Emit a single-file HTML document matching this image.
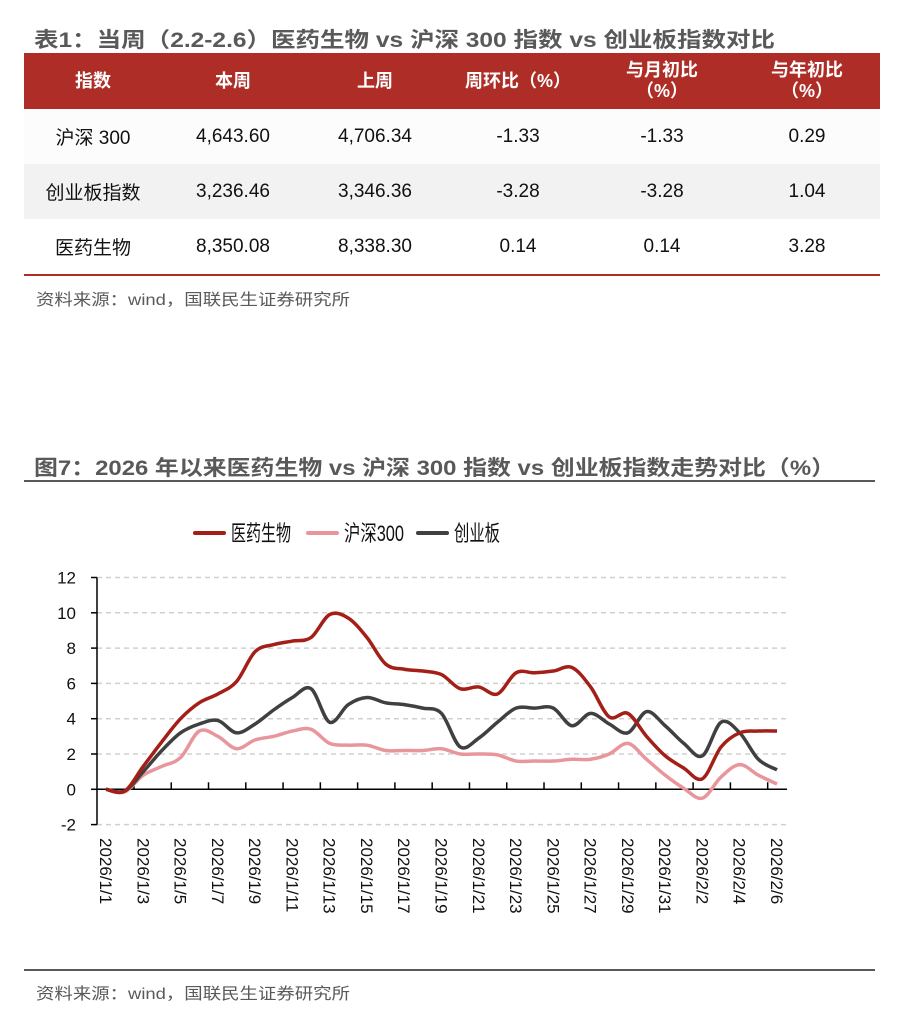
<!DOCTYPE html>
<html><head><meta charset="utf-8"><style>
body{margin:0;width:914px;height:1018px;background:#fff;font-family:"Liberation Sans","Noto Sans CJK SC",sans-serif;position:relative;overflow:hidden}
table{position:absolute;left:24px;top:53px;width:856px;border-collapse:collapse;font-size:19px;color:#111}
th{background:#ae2e27;color:#fff;font-weight:bold;height:56px;font-size:18px;line-height:21px;padding:0}
td{height:55px;text-align:center;padding:0}
tr.r1 td{background:#fcfcfc}tr.r2 td{background:#f2f2f2}tr.r3 td{background:#fff;border-bottom:2px solid #ae2e27}
svg.o{position:absolute;left:0;top:0}
</style></head><body>
<table>
<tr><th style="width:138px">指数</th><th style="width:142px">本周</th><th style="width:142px">上周</th><th style="width:144px">周环比（%）</th><th style="width:144px">与月初比<br>（%）</th><th>与年初比<br>（%）</th></tr>
<tr class="r1"><td>沪深 300</td><td>4,643.60</td><td>4,706.34</td><td>-1.33</td><td>-1.33</td><td>0.29</td></tr>
<tr class="r2"><td>创业板指数</td><td>3,236.46</td><td>3,346.36</td><td>-3.28</td><td>-3.28</td><td>1.04</td></tr>
<tr class="r3"><td>医药生物</td><td>8,350.08</td><td>8,338.30</td><td>0.14</td><td>0.14</td><td>3.28</td></tr>
</table>
<svg class="o" width="914" height="1018" style="pointer-events:none">
<text x="34" y="47" font-size="21" font-weight="bold" fill="#595959" textLength="741" lengthAdjust="spacingAndGlyphs" font-family="Liberation Sans, Noto Sans CJK SC, sans-serif">表1：当周（2.2-2.6）医药生物 vs 沪深 300 指数 vs 创业板指数对比</text>
<text x="36" y="305" font-size="16" fill="#595959" textLength="314" lengthAdjust="spacingAndGlyphs" font-family="Liberation Sans, Noto Sans CJK SC, sans-serif">资料来源：wind，国联民生证券研究所</text>
<text x="34" y="475" font-size="21" font-weight="bold" fill="#595959" textLength="801" lengthAdjust="spacingAndGlyphs" font-family="Liberation Sans, Noto Sans CJK SC, sans-serif">图7：2026 年以来医药生物 vs 沪深 300 指数 vs 创业板指数走势对比（%）</text>
<text x="36" y="999" font-size="16" fill="#595959" textLength="314" lengthAdjust="spacingAndGlyphs" font-family="Liberation Sans, Noto Sans CJK SC, sans-serif">资料来源：wind，国联民生证券研究所</text>
</svg>
<div style="position:absolute;left:24px;top:480px;width:851px;height:2px;background:#595959"></div>
<svg id="chart" width="914" height="1018" style="position:absolute;left:0;top:0"></svg>
<div style="position:absolute;left:24px;top:969px;width:851px;height:2px;background:#595959"></div>
<script>
const categories=["2026/1/1","","2026/1/3","","2026/1/5","","2026/1/7","","2026/1/9","","2026/1/11","","2026/1/13","","2026/1/15","","2026/1/17","","2026/1/19","","2026/1/21","","2026/1/23","","2026/1/25","","2026/1/27","","2026/1/29","","2026/1/31","","2026/2/2","","2026/2/4","","2026/2/6"];
const pharma=[0,-0.1,1.3,2.7,4.0,4.9,5.4,6.1,7.8,8.2,8.4,8.6,9.9,9.7,8.6,7.1,6.8,6.7,6.5,5.7,5.8,5.4,6.6,6.6,6.7,6.9,5.8,4.1,4.3,3.0,1.9,1.2,0.6,2.4,3.2,3.3,3.3];
const hs300=[0,-0.15,0.8,1.3,1.8,3.3,3.0,2.3,2.8,3.0,3.3,3.4,2.6,2.5,2.5,2.2,2.2,2.2,2.3,2.0,2.0,1.95,1.6,1.6,1.6,1.7,1.7,2.0,2.6,1.7,0.8,0.05,-0.5,0.7,1.4,0.8,0.3];
const cyb=[0,-0.1,1.0,2.2,3.2,3.7,3.9,3.2,3.7,4.5,5.2,5.7,3.8,4.8,5.2,4.9,4.8,4.6,4.3,2.4,2.9,3.8,4.6,4.6,4.6,3.6,4.3,3.7,3.2,4.4,3.6,2.6,1.9,3.8,3.2,1.7,1.1];
const yTicks=[-2,0,2,4,6,8,10,12];
const NS="http://www.w3.org/2000/svg",svg=document.getElementById('chart');
const x0=106,x1=777,yZero=789.3,yUnit=17.65;
const X=i=>x0+(x1-x0)*i/(categories.length-1);
const Y=v=>yZero-v*yUnit;
function mk(t,a){const e=document.createElementNS(NS,t);for(const k in a)e.setAttribute(k,a[k]);svg.appendChild(e);return e;}
yTicks.forEach(v=>{
 const g=mk('line',{x1:97,x2:787,y1:Y(v),y2:Y(v),stroke:'#d0d0d0','stroke-width':1.5,'stroke-dasharray':'5,4'});
 
 
 const tk=mk('line',{x1:91,x2:97,y1:Y(v),y2:Y(v),stroke:'#000','stroke-width':1.5});
 
 
 const t=mk('text',{x:76,y:Y(v)+6,'text-anchor':'end','font-size':17,fill:'#111','font-family':'Liberation Sans, sans-serif'});
 t.textContent=v;
 
 
});
const ya=mk('line',{x1:97,x2:97,y1:Y(12),y2:Y(-2),stroke:'#000','stroke-width':1.5});


const xa=mk('line',{x1:97,x2:787,y1:yZero,y2:yZero,stroke:'#000','stroke-width':1.5});


for(let i=1.5;i<categories.length;i+=2){
 const tk=mk('line',{x1:X(i),x2:X(i),y1:yZero,y2:yZero-7,stroke:'#000','stroke-width':1.5});
 
 
}
categories.forEach((c,i)=>{if(!c)return;
 const t=mk('text',{x:0,y:0,'font-size':17,fill:'#111','font-family':'Liberation Sans, sans-serif',transform:`translate(${X(i)-6},838) rotate(90)`});
 t.textContent=c;
 
 
});
function path(d){const p=d.map((v,i)=>[X(i),Y(v)]);let s=`M${p[0][0]},${p[0][1]}`;
 for(let i=0;i<p.length-1;i++){const a=p[i-1]||p[i],b=p[i],c=p[i+1],e=p[i+2]||c;
  s+=`C${b[0]+(c[0]-a[0])/6},${b[1]+(c[1]-a[1])/6} ${c[0]-(e[0]-b[0])/6},${c[1]-(e[1]-b[1])/6} ${c[0]},${c[1]}`;}return s;}
[[hs300,'#e8969b','series-hs300'],[cyb,'#404040','series-cyb'],[pharma,'#a31f17','series-pharma']].forEach(([d,c,n])=>{
 const p=mk('path',{d:path(d),fill:'none',stroke:c,'stroke-width':3.5,'stroke-linejoin':'round'});
 
 
});
[[195,'#a31f17','医药生物',60],[308,'#e8969b','沪深300',60],[418,'#404040','创业板',46]].forEach(([x,c,l,w])=>{
 const ln=mk('line',{x1:x,x2:x+29,y1:533,y2:533,stroke:c,'stroke-width':4,'stroke-linecap':'round'});
 
 
 const t=mk('text',{x:x+36,y:541,'font-size':22,fill:'#111','font-family':'Liberation Sans, Noto Sans CJK SC, sans-serif',textLength:w,lengthAdjust:'spacingAndGlyphs'});
 t.textContent=l;
 
 
});
</script>
</body></html>
